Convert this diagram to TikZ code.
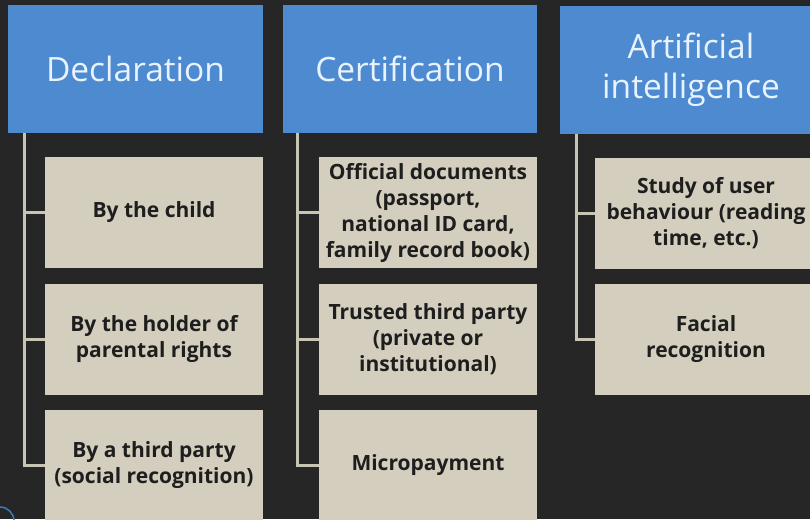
\documentclass[tikz,border=0pt]{standalone}
\usepackage{fontspec}
\setmainfont{Open Sans}
\definecolor{bg}{HTML}{262626}
\definecolor{hdrblue}{HTML}{4E8ACF}
\definecolor{hdrtext}{HTML}{E8F3FF}
\definecolor{boxfill}{HTML}{D3CEBD}
\definecolor{boxtext}{HTML}{1E1E1E}
\definecolor{connc}{HTML}{C9C5B5}
\definecolor{arcblue}{HTML}{3A7CC0}
\tikzset{
  hdr/.style={fill=hdrblue, draw=none, text=hdrtext, align=center,
    minimum height=128pt, inner sep=0pt,
    font=\fontsize{33.5}{40}\selectfont},
  child/.style={fill=boxfill, draw=none, text=boxtext, align=center,
    minimum height=111pt, inner sep=0pt,
    font=\fontsize{21}{26}\selectfont\bfseries},
  conn/.style={draw=connc, line width=3pt}
}
\begin{document}
\begin{tikzpicture}[x=1pt,y=-1pt]
\fill[bg] (0,0) rectangle (810,519);
\useasboundingbox (0,0) rectangle (810,519);
% headers
\node[hdr, minimum width=255pt] (h1) at (135.5,69) {Declaration};
\node[hdr, minimum width=254pt] (h2) at (410,69) {Certification};
\node[hdr, minimum width=262pt] (h3) at (691,70) {Artificial\\intelligence};
% column 1
\node[child, minimum width=218pt] (c11) at (154,212.5) {By the child};
\node[child, minimum width=218pt] (c12) at (154,339) {By the holder of\\parental rights};
\node[child, minimum width=218pt] (c13) at (154,465.5) {By a third party\\(social recognition)};
% column 2
\node[child, minimum width=218pt] (c21) at (428,212.5) {Official documents\\(passport,\\national ID card,\\family record book)};
\node[child, minimum width=218pt] (c22) at (428,339) {Trusted third party\\(private or\\institutional)};
\node[child, minimum width=218pt] (c23) at (428,465.5) {Micropayment};
% column 3
\node[child, minimum width=222pt] (c31) at (706,213) {Study of user\\behaviour (reading\\time, etc.)};
\node[child, minimum width=222pt] (c32) at (706,339) {Facial\\recognition};
% connectors
\draw[conn] (h1.south west) ++(17,0) |- (c13.west);
\draw[conn] (h1.south west) ++(17,0) |- (c11.west);
\draw[conn] (h1.south west) ++(17,0) |- (c12.west);
\draw[conn] (h2.south west) ++(15,0) |- (c23.west);
\draw[conn] (h2.south west) ++(15,0) |- (c21.west);
\draw[conn] (h2.south west) ++(15,0) |- (c22.west);
\draw[conn] (h3.south west) ++(17,0) |- (c32.west);
\draw[conn] (h3.south west) ++(17,0) |- (c31.west);
% corner arc
\draw[arcblue, line width=1.5pt] (0,521) circle (14);
\end{tikzpicture}
\end{document}
